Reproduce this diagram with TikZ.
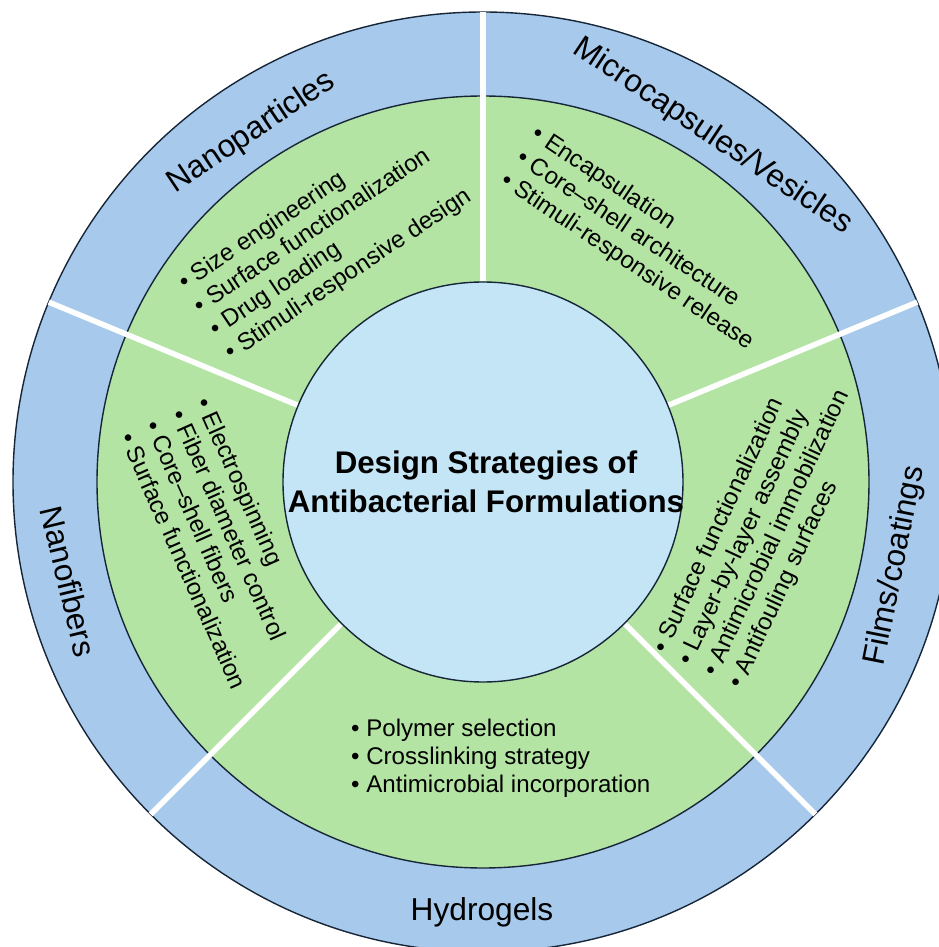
\documentclass[tikz,border=0pt]{standalone}
\usepackage{fontspec}
\setmainfont{Liberation Sans}

\definecolor{ringblue}{RGB}{167,201,235}
\definecolor{ringgreen}{RGB}{180,228,164}
\definecolor{coreblue}{RGB}{195,229,245}
\definecolor{edgeline}{RGB}{22,38,56}

\begin{document}
\begin{tikzpicture}[x=1bp,y=1bp,
    ring/.style={draw=edgeline,line width=1.4bp},
    divider/.style={white,line width=5.5bp},
    ringtext/.style={font=\fontsize{31.8}{37}\selectfont,inner sep=0pt},
    items/.style={font=\fontsize{24.2}{28}\selectfont,align=left,inner sep=0pt,anchor=west}]
  %\draw[help lines,step=50] (-483,-465) grid (456,482);
  \useasboundingbox (-483,-465) rectangle (456,482);
  \clip (-483,-465) rectangle (456,482);

  \draw[ring,fill=ringblue]  (0,0) circle (470);
  \draw[ring,fill=ringgreen] (0,0) circle (386);
  \draw[ring,fill=coreblue]  (0,0) circle (200);

  \foreach \a in {22.5,90,157.5,225,315}
    \path[draw,divider] (\a:201) -- (\a:470);

  \draw (3,0.5) node[align=center,inner sep=0pt,font=\fontsize{31.4}{39}\selectfont\bfseries](core)
    {Design Strategies of\\Antibacterial Formulations};

  \draw (123.5:419) node[ringtext,rotate=33.75](np)  {Nanoparticles};
  \draw (56.4:415)  node[ringtext,rotate=-33.75](mc) {Microcapsules/Vesicles};
  \draw (-11.5:421) node[ringtext,rotate=78.75](fc)  {Films/coatings};
  \draw (-1,-430)   node[ringtext](hg)               {Hydrogels};
  \draw (193.5:426) node[ringtext,rotate=-76.5](nf)  {Nanofibers};

  \draw (-278.3,161.3) node[items,rotate=33.75](npList)
    {\textbullet\ Size engineering\\\textbullet\ Surface functionalization\\
     \textbullet\ Drug loading\\\textbullet\ Stimuli-responsive design};
  \draw (35.7,326.2) node[items,rotate=-33.75](mcList)
    {\textbullet\ Encapsulation\\\textbullet\ Core–shell architecture\\
     \textbullet\ Stimuli-responsive release};
  \draw (215.3,-187.6) node[items,rotate=65](fcList)
    {\textbullet\ Surface functionalization\\\textbullet\ Layer-by-layer assembly\\
     \textbullet\ Antimicrobial immobilization\\\textbullet\ Antifouling surfaces};
  \draw (-132,-276) node[items](hgList)
    {\textbullet\ Polymer selection\\\textbullet\ Crosslinking strategy\\
     \textbullet\ Antimicrobial incorporation};
  \draw (-317.6,65.7) node[items,rotate=-66](nfList)
    {\textbullet\ Electrospinning\\\textbullet\ Fiber diameter control\\
     \textbullet\ Core–shell fibers\\\textbullet\ Surface functionalization};

\end{tikzpicture}
\end{document}
